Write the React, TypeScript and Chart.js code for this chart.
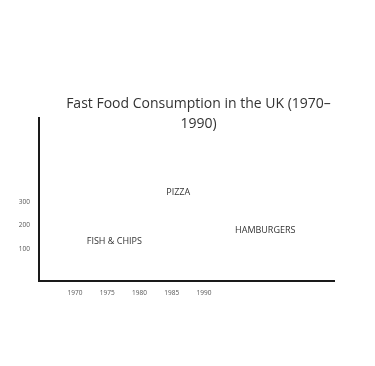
import React, { useEffect, useRef } from "react";
import { Chart, registerables } from "chart.js";

Chart.register(...registerables);

const titleLines = ["Fast Food Consumption in the UK (1970–", "1990)"];
const xTicks = [1970, 1975, 1980, 1985, 1990];
const yTicks = [100, 200, 300];
const foodNames = ["PIZZA", "FISH & CHIPS", "HAMBURGERS"];
const foodYears = [1986, 1976.1, 1999.5];
const foodValues = [342, 134, 177];

const FONT = "'Open Sans', 'Noto Sans', sans-serif";

const labelPlugin = {
  id: "foodLabels",
  afterDatasetsDraw(chart: any) {
    const ctx = chart.ctx;
    const meta = chart.getDatasetMeta(0);
    ctx.save();
    ctx.font = `9px ${FONT}`;
    ctx.fillStyle = "#333333";
    ctx.textAlign = "center";
    ctx.textBaseline = "middle";
    meta.data.forEach((el: any, i: number) => {
      ctx.fillText(foodNames[i], el.x, el.y);
    });
    ctx.restore();
  },
};

const titlePlugin = {
  id: "customTitle",
  afterDraw(chart: any) {
    const ctx = chart.ctx;
    ctx.save();
    ctx.font = `14px ${FONT}`;
    ctx.fillStyle = "#333333";
    ctx.textAlign = "center";
    ctx.textBaseline = "middle";
    titleLines.forEach((line, i) => {
      ctx.fillText(line, 190.5, 96 + i * 20);
    });
    ctx.restore();
  },
};

export default function App() {
  const ref = useRef<HTMLCanvasElement>(null);
  useEffect(() => {
    if (!ref.current) return;
    const chart = new Chart(ref.current, {
      type: "scatter",
      data: {
        datasets: [
          {
            data: foodYears.map((x, i) => ({ x, y: foodValues[i] })),
            pointRadius: 0,
            pointHoverRadius: 0,
          },
        ],
      },
      options: {
        animation: false,
        responsive: true,
        maintainAspectRatio: false,
        layout: { padding: { top: 110, right: 33, left: 0, bottom: 0 } },
        plugins: {
          legend: { display: false },
          title: { display: false },
          tooltip: { enabled: false },
        },
        scales: {
          x: {
            type: "linear",
            min: 1964.42,
            max: 2010.16,
            afterBuildTicks: (scale: any) => {
              scale.ticks = xTicks.map((v) => ({ value: v }));
            },
            afterFit: (scale: any) => {
              scale.height = 77;
            },
            grid: { display: false, drawTicks: false },
            border: { display: true, color: "#1a1a1a", width: 2 },
            ticks: {
              padding: 8,
              maxRotation: 0,
              color: "#555555",
              font: { family: FONT, size: 6.5 },
              callback: (v: any) => String(v),
            },
          },
          y: {
            type: "linear",
            min: -36.2,
            max: 657.4,
            afterBuildTicks: (scale: any) => {
              scale.ticks = yTicks.map((v) => ({ value: v }));
            },
            afterFit: (scale: any) => {
              scale.width = 31;
            },
            grid: { display: false, drawTicks: false },
            border: { display: true, color: "#1a1a1a", width: 2 },
            ticks: {
              padding: 9,
              color: "#555555",
              font: { family: FONT, size: 6.5 },
              callback: (v: any) => String(v),
            },
          },
        },
      },
      plugins: [labelPlugin, titlePlugin],
    });
    return () => chart.destroy();
  }, []);
  return (
    <div style={{ width: 359, height: 350, position: "relative" }}>
      <canvas ref={ref} />
    </div>
  );
}
